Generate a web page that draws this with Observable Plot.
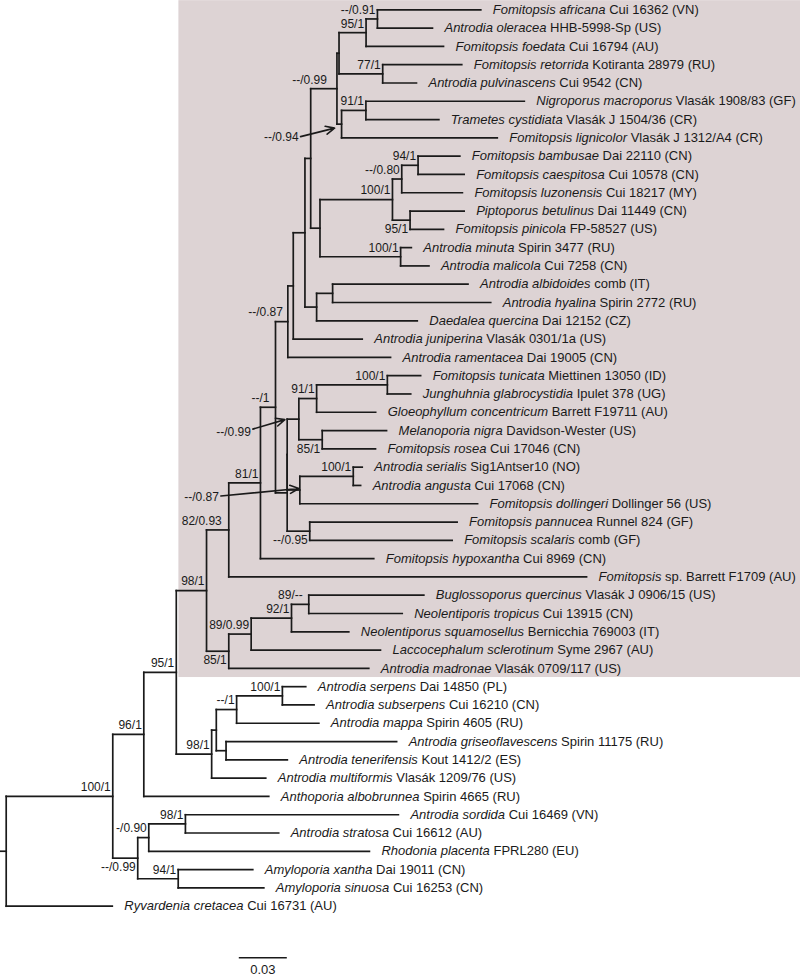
<!DOCTYPE html>
<html><head><meta charset="utf-8">
<script src="https://cdn.jsdelivr.net/npm/d3@7"></script>
<script src="https://cdn.jsdelivr.net/npm/@observablehq/plot@0.6"></script>
<style>
html,body{margin:0;padding:0;background:#fff}
#chart svg{display:block}
</style>
</head><body><div id="chart"></div>
<script>
// ---- Leaves (top to bottom) ----
const leafTaxa = [
"Fomitopsis africana","Antrodia oleracea","Fomitopsis foedata","Fomitopsis retorrida","Antrodia pulvinascens",
"Nigroporus macroporus","Trametes cystidiata","Fomitopsis lignicolor","Fomitopsis bambusae","Fomitopsis caespitosa",
"Fomitopsis luzonensis","Piptoporus betulinus","Fomitopsis pinicola","Antrodia minuta","Antrodia malicola",
"Antrodia albidoides","Antrodia hyalina","Daedalea quercina","Antrodia juniperina","Antrodia ramentacea",
"Fomitopsis tunicata","Junghuhnia glabrocystidia","Gloeophyllum concentricum","Melanoporia nigra","Fomitopsis rosea",
"Antrodia serialis","Antrodia angusta","Fomitopsis dollingeri","Fomitopsis pannucea","Fomitopsis scalaris",
"Fomitopsis hypoxantha","Fomitopsis","Buglossoporus quercinus","Neolentiporis tropicus","Neolentiporus squamosellus",
"Laccocephalum sclerotinum","Antrodia madronae","Antrodia serpens","Antrodia subserpens","Antrodia mappa",
"Antrodia griseoflavescens","Antrodia tenerifensis","Antrodia multiformis","Anthoporia albobrunnea","Antrodia sordida",
"Antrodia stratosa","Rhodonia placenta","Amyloporia xantha","Amyloporia sinuosa","Ryvardenia cretacea"];
const leafVouchers = [
"Cui 16362 (VN)","HHB-5998-Sp (US)","Cui 16794 (AU)","Kotiranta 28979 (RU)","Cui 9542 (CN)",
"Vlasák 1908/83 (GF)","Vlasák J 1504/36 (CR)","Vlasák J 1312/A4 (CR)","Dai 22110 (CN)","Cui 10578 (CN)",
"Cui 18217 (MY)","Dai 11449 (CN)","FP-58527 (US)","Spirin 3477 (RU)","Cui 7258 (CN)",
"comb (IT)","Spirin 2772 (RU)","Dai 12152 (CZ)","Vlasák 0301/1a (US)","Dai 19005 (CN)",
"Miettinen 13050 (ID)","Ipulet 378 (UG)","Barrett F19711 (AU)","Davidson-Wester (US)","Cui 17046 (CN)",
"Sig1Antser10 (NO)","Cui 17068 (CN)","Dollinger 56 (US)","Runnel 824 (GF)","comb (GF)",
"Cui 8969 (CN)","sp. Barrett F1709 (AU)","Vlasák J 0906/15 (US)","Cui 13915 (CN)","Bernicchia 769003 (IT)",
"Syme 2967 (AU)","Vlasák 0709/117 (US)","Dai 14850 (PL)","Cui 16210 (CN)","Spirin 4605 (RU)",
"Spirin 11175 (RU)","Kout 1412/2 (ES)","Vlasák 1209/76 (US)","Spirin 4665 (RU)","Cui 16469 (VN)",
"Cui 16612 (AU)","FPRL280 (EU)","Dai 19011 (CN)","Cui 16253 (CN)","Cui 16731 (AU)"];
const leafParents = [
"n091","n091","n95","n77","n77","n91","n91","B","n94","n94",
"n080","n95b","n95b","n100b","n100b","nAH","nAH","I","F","G",
"n100c","n100c","n91b","n85","n85","n100d","n100d","M","O","O",
"J","L","P","P","Q","R","S","Y","Y","Z",
"AA","AA","W","AB","AG","AG","AE","AF","AF","root"];
const leafLengths = [
0.0646,0.0344,0.0484,0.0494,0.0211,0.0990,0.0456,0.0973,0.0261,0.0288,
0.0379,0.0338,0.0209,0.0067,0.0177,0.0846,0.0988,0.0629,0.0431,0.0642,
0.0208,0.0146,0.0369,0.0402,0.0333,0.0056,0.0046,0.1111,0.0921,0.0890,
0.0708,0.2236,0.0719,0.0584,0.0358,0.0808,0.0875,0.0146,0.0198,0.0514,
0.1066,0.0383,0.0338,0.0781,0.1331,0.0583,0.1379,0.0466,0.0535,0.0663];

// ---- Internal nodes ----
const nodeIds = ["root","AC","AB","AD","V","U","W","L","S","J","H","G","K","K2","F","E","C","I","AB2","D",
"A","B","n95","n77","n091","n91","n100a","n100b","n080","n95b","n94","nAH","N","M","O","n91b","n85","n100c","n100d",
"R","Q","P","X","Z","AA","Y","AE","AF","AG"];
const nodeParents = [null,"root","AC","AC","AB","V","V","U","U","L","J","H","H","K","G","F","E","E","C","C",
"AB2","AB2","A","A","n95","B","D","D","n100a","n100a","n080","I","K2","K2","K","N","N","n91b","M",
"S","R","Q","W","X","X","Z","AD","AD","AE"];
const nodeLengths = [0,0.0666,0.0194,0.0156,0.0203,0.0189,0.0221,0.0139,0.0139,0.0198,0.0094,0.0077,0.0073,0,0.0034,0.0073,0.0036,0.0073,0.0164,0.0058,
0.0013,0.0029,0.0169,0.0273,0.0071,0.0152,0.0453,0.0504,0.0058,0.0110,0.0102,0.0100,0.0073,0.0079,0.0141,0.0111,0.0146,0.0442,0.0334,
0.0140,0.0252,0.0108,0.0029,0.0127,0.0061,0.0286,0.0069,0.0253,0.0229];
const nodeSupport = ["","100/1","96/1","--/0.99","95/1","98/1","98/1","82/0.93","85/1","81/1","--/1","--/0.87","","","","","","","--/0.99","",
"","--/0.94","95/1","77/1","--/0.91","91/1","100/1","100/1","--/0.80","95/1","94/1","","--/0.99","--/0.87","--/0.95","91/1","85/1","100/1","100/1",
"89/0.99","92/1","89/--","","--/1","","100/1","-/0.90","94/1","98/1"];
const rootStub = 0.0036;
const scaleBarLength = 0.03;
const highlightClade = "U";

// ---- layout / style ----
const labelsBelow = new Set(["AD","S","n95b","n85","O"]);
const labelShift = {AB2:-8, L:-5, P:-4, H:-4, G:-3};
const callouts = {
  B: {textDx:-43, textDy:13, fromDx:-41, fromDy:12.5, toDx:-7, toDy:4},
  N: {textDx:-48, textDy:13, fromDx:-46, fromDy:10, toDx:-14, toDy:0.5},
  M: {textDx:-81, textDy:7.6, fromDx:-79, fromDy:6, toDx:-1, toDy:-1.5}
};
const xDomain = [0, 0.4964], xRange = [5.7, 800];
const yDomain = [0, 49], yRange = [9.3, 905.7];
const kx = (xRange[1]-xRange[0])/(xDomain[1]-xDomain[0]);
const ky = (yRange[1]-yRange[0])/(yDomain[1]-yDomain[0]);
const INK = "#1a1a1a";

// ---- build tree ----
const nodes = new Map();
nodeIds.forEach((id,i)=>nodes.set(id,{id,parent:nodeParents[i],len:nodeLengths[i],support:nodeSupport[i],children:[]}));
leafTaxa.forEach((t,i)=>nodes.set("leaf"+i,{id:"leaf"+i,parent:leafParents[i],len:leafLengths[i],support:"",children:[],leaf:true,row:i,taxon:t,voucher:leafVouchers[i]}));
for (const n of nodes.values()) if (n.parent) nodes.get(n.parent).children.push(n);
function setDepth(n,d){n.depth=d;n.children.forEach(c=>setDepth(c,d+c.len));}
const root = nodes.get("root");
setDepth(root,0);
function setY(n){ if(n.leaf) return (n.y=n.row); const ys=n.children.map(setY); n.y=(Math.min(...ys)+Math.max(...ys))/2; return n.y; }
setY(root);
function leafRows(n){ return n.leaf ? [n.row] : n.children.flatMap(leafRows); }

const all = [...nodes.values()];
const segs = [];
for (const n of all) {
  if (n.parent) { const p = nodes.get(n.parent); segs.push({x1:p.depth,x2:n.depth,y1:n.y,y2:n.y}); }
  if (!n.leaf) { const ys=n.children.map(c=>c.y); segs.push({x1:n.depth,x2:n.depth,y1:Math.min(...ys),y2:Math.max(...ys)}); }
}
segs.push({x1:-rootStub,x2:0,y1:root.y,y2:root.y});

const leaves = all.filter(n=>n.leaf);
const internals = all.filter(n=>!n.leaf && n.support);
const labX = n => n.depth + (labelShift[n.id]||0)/kx;
const supAbove = internals.filter(n=>!labelsBelow.has(n.id) && !callouts[n.id]);
const supBelow = internals.filter(n=>labelsBelow.has(n.id));
const callData = internals.filter(n=>callouts[n.id]).map(n=>{const c=callouts[n.id];return {
  support:n.support,
  tx:n.depth+c.textDx/kx, ty:n.y+c.textDy/ky,
  x1:n.depth+c.fromDx/kx, y1:n.y+c.fromDy/ky,
  x2:n.depth+c.toDx/kx, y2:n.y+c.toDy/ky};});

const hl = nodes.get(highlightClade);
const hlRows = leafRows(hl);
const hlParent = nodes.get(hl.parent);
const box = [{x1:hlParent.depth+2.6/kx, x2:xDomain[1], y1:Math.min(...hlRows)-0.5, y2:Math.max(...hlRows)+0.5}];

const sbStart = (238.3 - xRange[0])/kx;
const sbY = (957.3 - yRange[0])/ky;
const scaleBar = [{x1:sbStart, x2:sbStart+scaleBarLength, y:sbY, label:String(scaleBarLength)}];

const plot = Plot.plot({
  width:800, height:977,
  marginTop:0, marginRight:0, marginBottom:0, marginLeft:0,
  x:{domain:xDomain, range:xRange, axis:null},
  y:{domain:yDomain, range:yRange, axis:null},
  style:{fontFamily:'"Liberation Sans", Arial, sans-serif', fontSize:"12px", background:"#fff", color:INK},
  marks:[
    Plot.rect(box,{x1:"x1",x2:"x2",y1:"y1",y2:"y2",fill:"#ddd3d4"}),
    Plot.link(segs,{x1:"x1",x2:"x2",y1:"y1",y2:"y2",stroke:INK,strokeWidth:1.7,strokeLinecap:"square"}),
    Plot.text(leaves,{x:"depth",y:"y",text:d=>d.taxon+"|"+d.voucher,dx:12,textAnchor:"start",fontSize:13,fill:INK,ariaLabel:"leaf-label"}),
    Plot.text(supAbove,{x:labX,y:"y",text:"support",dx:-2,dy:-9,textAnchor:"end",fontSize:12,fill:INK}),
    Plot.text(supBelow,{x:labX,y:"y",text:"support",dx:-2,dy:9,textAnchor:"end",fontSize:12,fill:INK}),
    Plot.text(callData,{x:"tx",y:"ty",text:"support",textAnchor:"end",fontSize:12,fill:INK}),
    Plot.arrow(callData,{x1:"x1",y1:"y1",x2:"x2",y2:"y2",stroke:INK,strokeWidth:1.6,headLength:9,headAngle:50}),
    Plot.link(scaleBar,{x1:"x1",x2:"x2",y1:"y",y2:"y",stroke:INK,strokeWidth:1.4}),
    Plot.text(scaleBar,{x:d=>(d.x1+d.x2)/2,y:"y",text:"label",dy:12,fontSize:13,fill:INK})
  ]
});
document.getElementById("chart").appendChild(plot);

// italic genus/species, roman voucher
const NS = "http://www.w3.org/2000/svg";
plot.querySelectorAll('text').forEach(t=>{
  if (!t.textContent.includes("|") || t.querySelector("tspan")) return;
  const [a,b] = t.textContent.split("|");
  t.textContent = "";
  const s1 = document.createElementNS(NS,"tspan"); s1.setAttribute("font-style","italic"); s1.textContent = a;
  const s2 = document.createElementNS(NS,"tspan"); s2.textContent = " " + b;
  t.append(s1,s2);
});
</script>
</body></html>
